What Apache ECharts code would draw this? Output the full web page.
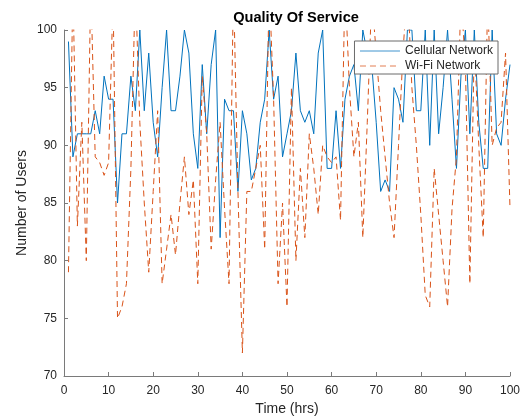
<!DOCTYPE html>
<html>
<head>
<meta charset="utf-8">
<script src="https://cdn.jsdelivr.net/npm/echarts@6/dist/echarts.min.js"></script>
<style>html,body{margin:0;padding:0;background:#fff}#c{width:521px;height:416px}</style>
</head>
<body>
<div id="c"></div>
<script>
const title = 'Quality Of Service';
const xName = 'Time (hrs)';
const yName = 'Number of Users';
const seriesNames = ['Cellular Network', 'Wi-Fi Network'];
const hours = Array.from({length: 100}, (_, i) => i + 1);
const cellular = [99,89,91,91,91,91,93,91,96,94,94,85,91,91,96,93,100,93,98,92,
  89,95,100,93,93,96,100,98,91,88,97,91,97,100,82,94,93,93,86,93,
  91,87,88,92,94,100,94,96,89,91,93,98,93,92,93,91,98,100,88,88,
  93,88,94,96,97,93,100,98,97,92,86,87,86,95,94,92,100,100,93,93,
  100,90,100,91,95,100,94,88,96,100,91,100,92,88,88,100,91,90,94,97];
const wifi = [79,104,83,92,80,104,89,88.5,87.4,88.5,103,75,76,78,88,104,92,85,79,86,
  93,78,81,84,80.5,85,89,84,87,78,96,91,81,87,92,84.5,78,104,86,72,
  86,86,88,90,81,104,94,78,85,76,95,80,88,82,91,88,84,90,89,88.5,
  89,83.5,104,95,89,92,82,92,103,98,93,89,85,82,90,98,104,95,90,84,
  77,76,88,84,80,76,84.5,89,103,97,78,99,90,82,103,90,91.5,92,98,84.5];
const xTicks = {min: 0, max: 100, interval: 10};
const yTicks = {min: 70, max: 100, interval: 5};

const chart = echarts.init(document.getElementById('c'), null, {renderer: 'canvas'});
const axisCol = '#7a7a7a';
const txtCol = '#262626';
const ff = 'Liberation Sans, Arial, sans-serif';
chart.setOption({
  animation: false,
  backgroundColor: '#fff',
  title: {text: title, left: 291, textAlign: 'center', top: 5,
    textStyle: {fontFamily: ff, fontSize: 14.6, fontWeight: 'bold', color: '#000'}},
  grid: {left: 64, right: 11, top: 30, bottom: 40, containLabel: false, outerBoundsMode: 'none'},
  legend: {
    orient: 'vertical', right: 23, top: 41,
    backgroundColor: '#fff', borderColor: '#6a6a6a', borderWidth: 1,
    padding: [4, 5, 2, 5], itemGap: 3, itemWidth: 40, itemHeight: 12,
    itemStyle: {opacity: 0},
    lineStyle: {width: 1, opacity: 0.75},
    textStyle: {fontFamily: ff, fontSize: 12, color: txtCol},
    data: seriesNames.map(n => ({name: n}))
  },
  xAxis: {
    type: 'value', min: xTicks.min, max: xTicks.max, interval: xTicks.interval,
    name: xName, nameLocation: 'middle', nameGap: 26,
    nameTextStyle: {fontFamily: ff, fontSize: 14, color: txtCol},
    axisLine: {show: true, lineStyle: {color: axisCol, width: 1}},
    axisTick: {show: true, inside: true, length: 4, lineStyle: {color: axisCol}},
    axisLabel: {fontFamily: ff, fontSize: 12, color: txtCol, margin: 9},
    splitLine: {show: false}
  },
  yAxis: {
    type: 'value', min: yTicks.min, max: yTicks.max, interval: yTicks.interval,
    name: yName, nameLocation: 'middle', nameGap: 35, nameMoveOverlap: false,
    nameTextStyle: {fontFamily: ff, fontSize: 14, color: txtCol},
    axisLine: {show: true, lineStyle: {color: axisCol, width: 1}},
    axisTick: {show: true, inside: true, length: 4, lineStyle: {color: axisCol}},
    axisLabel: {fontFamily: ff, fontSize: 12, color: txtCol, margin: 7},
    splitLine: {show: false}
  },
  series: [
    {name: seriesNames[0], type: 'line', data: hours.map((h, i) => [h, cellular[i]]),
      symbol: 'none', clip: true, color: '#0072BD',
      lineStyle: {color: '#0072BD', width: 1}},
    {name: seriesNames[1], type: 'line', data: hours.map((h, i) => [h, wifi[i]]),
      symbol: 'none', clip: true, color: '#D95319',
      lineStyle: {color: '#D95319', width: 1, type: [6, 4]}}
  ]
});
</script>
</body>
</html>
